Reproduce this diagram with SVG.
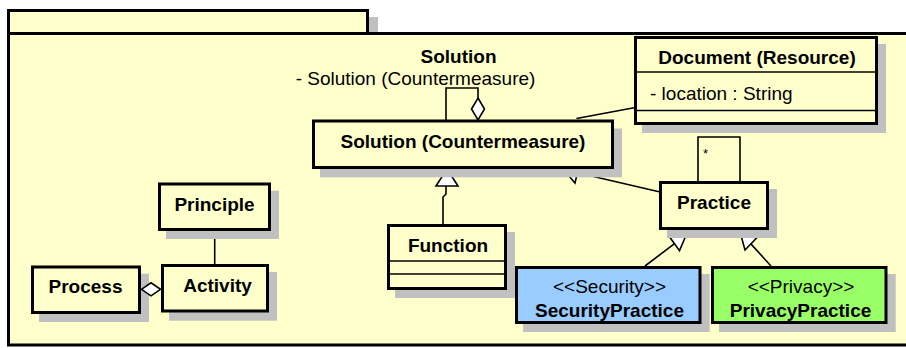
<svg xmlns="http://www.w3.org/2000/svg" width="906" height="348" viewBox="0 0 906 348">
  <style>
    .pkg { fill: #FFFFCC; stroke: #000; stroke-width: 3; }
    .box { fill: #FFFFCC; stroke: #000; stroke-width: 3; }
    .sec { fill: #99CCFF; stroke: #000; stroke-width: 3; }
    .prv { fill: #99FF66; stroke: #000; stroke-width: 3; }
    .shadow { fill: #C0C0C0; stroke: none; }
    .div { stroke: #000; stroke-width: 1.5; fill: none; }
    .edge { stroke: #000; stroke-width: 1.6; fill: none; }
    .head { fill: #FFFFFF; stroke: #000; stroke-width: 1.6; }
    text { font-family: "Liberation Sans", Arial, sans-serif; font-size: 19px; fill: #000; }
    .b { font-weight: bold; }
    .c { text-anchor: middle; }
    .small { font-size: 13px; }
  </style>

  <!-- package frame -->
  <g id="package">
    <rect class="shadow" x="369" y="17" width="9" height="17"/>
    <rect class="pkg" x="8.5" y="10.5" width="359" height="23"/>
    <rect class="pkg" x="8.5" y="33.5" width="920" height="311.5"/>
    <text class="b c" x="458.5" y="63">Solution</text>
    <text class="c" x="415.5" y="85">- Solution (Countermeasure)</text>
  </g>

  <!-- Process sits under the aggregation diamond -->
  <g id="process">
    <rect class="shadow" x="39" y="273.7" width="110" height="48.3"/>
    <rect class="box" x="32.5" y="267" width="107" height="45.5"/>
    <text class="b c" x="85.5" y="293">Process</text>
  </g>

  <g id="connectors">
    <!-- Solution self-aggregation -->
    <polyline class="edge" points="446,121 446,88 478,88 478,98"/>
    <polygon class="head" points="478,98 484.5,109 478,120 471.5,109"/>
    <!-- Document association -->
    <line class="edge" x1="576.5" y1="118.5" x2="634" y2="107.8"/>
    <!-- Practice self-association -->
    <polyline class="edge" points="698,182 698,137 740,137 740,182"/>
    <text class="small" x="703" y="158">*</text>
    <!-- Practice generalizes Solution -->
    <line class="edge" x1="659" y1="191.8" x2="577.4" y2="172.8"/>
    <polygon class="head" points="563.4,169.5 579.8,162.6 575,183"/>
    <!-- Function generalizes Solution -->
    <polyline class="edge" points="443,225 443,197 446,194 446,186"/>
    <polygon class="head" points="447,169 458,186 436,186"/>
    <!-- SecurityPractice / PrivacyPractice generalize Practice -->
    <line class="edge" x1="645" y1="266" x2="674.5" y2="243.7"/>
    <polygon class="head" points="686.1,235.2 679.5,250.6 669.5,236.8"/>
    <line class="edge" x1="771" y1="266" x2="750.9" y2="243.9"/>
    <polygon class="head" points="740.6,233.9 756.8,237.8 745,250"/>
    <!-- Principle - Activity -->
    <line class="edge" x1="214.7" y1="231" x2="214.7" y2="264"/>
    <!-- Process aggregates Activity -->
    <polygon class="head" points="141.5,289.3 151,282.8 160.5,289.3 151,295.8"/>
  </g>

  <g id="solution">
    <rect class="shadow" x="320" y="128.5" width="302" height="48.8"/>
    <rect class="box" x="313.5" y="121" width="299" height="46.5"/>
    <text class="b c" x="463" y="148">Solution (Countermeasure)</text>
  </g>

  <g id="document">
    <rect class="shadow" x="642" y="44" width="244" height="89"/>
    <rect class="box" x="635.5" y="37.5" width="241" height="86"/>
    <line class="div" x1="635.5" y1="72" x2="876.5" y2="72"/>
    <line class="div" x1="635.5" y1="110.5" x2="876.5" y2="110.5"/>
    <text class="b c" x="757" y="63.5">Document (Resource)</text>
    <text x="650" y="100">- location : String</text>
  </g>

  <g id="practice">
    <rect class="shadow" x="667" y="189" width="110" height="49"/>
    <rect class="box" x="660.5" y="182.5" width="107" height="46"/>
    <text class="b c" x="714" y="209">Practice</text>
  </g>

  <g id="function">
    <rect class="shadow" x="395" y="232" width="120" height="66"/>
    <rect class="box" x="388.5" y="225.5" width="117" height="63"/>
    <line class="div" x1="388.5" y1="261" x2="505.5" y2="261"/>
    <line class="div" x1="388.5" y1="274" x2="505.5" y2="274"/>
    <text class="b c" x="448" y="252">Function</text>
  </g>

  <g id="principle">
    <rect class="shadow" x="166" y="190.7" width="113" height="48.3"/>
    <rect class="box" x="159.5" y="184" width="110" height="45.5"/>
    <text class="b c" x="214.5" y="211">Principle</text>
  </g>

  <g id="activity">
    <rect class="shadow" x="169" y="272" width="108" height="48.7"/>
    <rect class="box" x="162.5" y="265.5" width="105" height="45.5"/>
    <text class="b c" x="217.5" y="292">Activity</text>
  </g>

  <g id="security-practice">
    <rect class="shadow" x="523" y="274" width="186.7" height="58"/>
    <rect class="sec" x="516.5" y="267.5" width="183.5" height="55"/>
    <text class="c" x="609.5" y="293">&lt;&lt;Security&gt;&gt;</text>
    <text class="b c" x="609.5" y="317">SecurityPractice</text>
  </g>

  <g id="privacy-practice">
    <rect class="shadow" x="719" y="274" width="176.7" height="58"/>
    <rect class="prv" x="712.5" y="267.5" width="173.5" height="55"/>
    <text class="c" x="801" y="293">&lt;&lt;Privacy&gt;&gt;</text>
    <text class="b c" x="800.5" y="317">PrivacyPractice</text>
  </g>
</svg>
